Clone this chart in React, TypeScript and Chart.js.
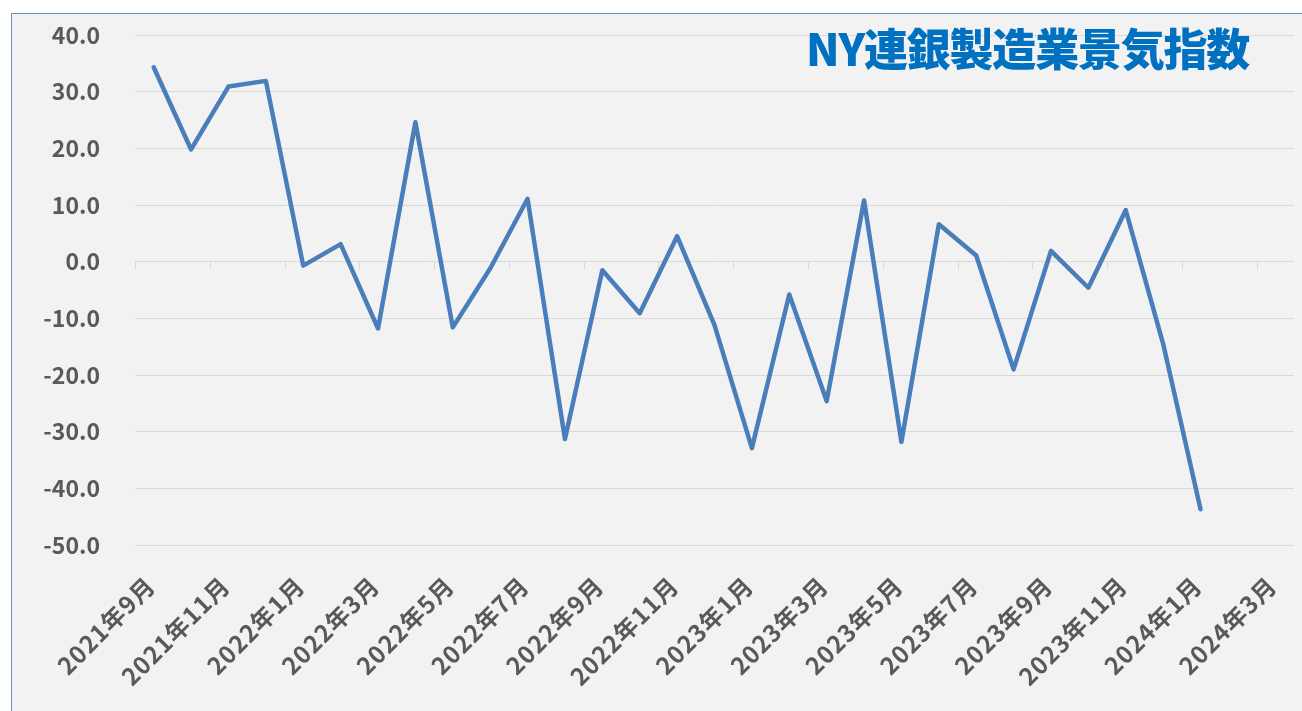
import React, { useEffect, useRef } from "react";
import { Chart, registerables } from "chart.js";

Chart.register(...registerables);

const months: string[] = [
  "2021年9月", "2021年10月", "2021年11月", "2021年12月",
  "2022年1月", "2022年2月", "2022年3月", "2022年4月", "2022年5月", "2022年6月",
  "2022年7月", "2022年8月", "2022年9月", "2022年10月", "2022年11月", "2022年12月",
  "2023年1月", "2023年2月", "2023年3月", "2023年4月", "2023年5月", "2023年6月",
  "2023年7月", "2023年8月", "2023年9月", "2023年10月", "2023年11月", "2023年12月",
  "2024年1月", "2024年2月", "2024年3月",
];

const indexValues: number[] = [
  34.3, 19.8, 30.9, 31.9,
  -0.7, 3.1, -11.8, 24.6, -11.6, -1.2,
  11.1, -31.3, -1.5, -9.1, 4.5, -11.2,
  -32.9, -5.8, -24.6, 10.8, -31.8, 6.6,
  1.1, -19.0, 1.9, -4.6, 9.1, -14.5,
  -43.7,
];

const yMin = -50;
const yMax = 40;
const yStep = 10;
const labelEvery = 2;

const titleText = "NY連銀製造業景気指数";

const LABEL_FONT = "'Noto Sans CJK JP', 'Noto Sans', sans-serif";

const axisDecorPlugin = {
  id: "axisDecor",
  beforeDatasetsDraw(chart: any) {
    const { ctx, scales } = chart;
    const x = scales.x;
    const y = scales.y;
    const w = x.getPixelForValue(1) - x.getPixelForValue(0);
    const y0 = y.getPixelForValue(0);
    ctx.save();
    ctx.strokeStyle = "#d9d9d9";
    ctx.lineWidth = 1;
    for (let j = 0; j < months.length; j += labelEvery) {
      const px = Math.round(x.getPixelForValue(j) - w / 2) + 0.5;
      ctx.beginPath();
      ctx.moveTo(px, y0);
      ctx.lineTo(px, y0 + 8);
      ctx.stroke();
    }
    ctx.restore();
  },
  afterDraw(chart: any) {
    const { ctx, scales, chartArea } = chart;
    const x = scales.x;
    ctx.save();
    ctx.fillStyle = "#595959";
    ctx.font = `bold 24px ${LABEL_FONT}`;
    (ctx as any).letterSpacing = "1px";
    ctx.textAlign = "right";
    ctx.textBaseline = "middle";
    for (let i = 0; i < months.length; i += labelEvery) {
      ctx.save();
      ctx.translate(x.getPixelForValue(i) - 3, chartArea.bottom + 36);
      ctx.rotate(-Math.PI / 4);
      ctx.fillText(months[i], 0, 0);
      ctx.restore();
    }
    ctx.restore();
  },
};

export default function App() {
  const canvasRef = useRef<HTMLCanvasElement | null>(null);

  useEffect(() => {
    if (!canvasRef.current) return;
    const chart = new Chart(canvasRef.current, {
      type: "line",
      data: {
        labels: months,
        datasets: [
          {
            label: titleText,
            data: indexValues,
            borderColor: "#4a7ebb",
            backgroundColor: "#4a7ebb",
            borderWidth: 4.5,
            pointRadius: 0,
            tension: 0,
            borderJoinStyle: "round",
            borderCapStyle: "round",
            fill: false,
          },
        ],
      },
      options: {
        responsive: false,
        animation: false,
        devicePixelRatio: 1,
        layout: { padding: { top: 21, right: 7, bottom: 0, left: 0 } },
        plugins: {
          legend: { display: false },
          tooltip: { enabled: false },
          title: { display: false },
        },
        scales: {
          x: {
            type: "category",
            offset: true,
            grid: { display: false },
            border: { display: false },
            ticks: { display: false },
            afterFit: (s: any) => {
              s.height = 166;
              s.paddingLeft = 0;
              s.paddingRight = 0;
            },
          },
          y: {
            min: yMin,
            max: yMax,
            grid: { color: "#d9d9d9", lineWidth: 1, drawTicks: false },
            border: { display: false },
            ticks: {
              stepSize: yStep,
              padding: 35,
              color: "#595959",
              font: { family: LABEL_FONT, size: 23, weight: "bold", lineHeight: 1 },
              callback: (v: any) => Number(v).toFixed(1),
            },
            afterFit: (s: any) => {
              s.width = 123;
              s.paddingTop = 0;
              s.paddingBottom = 0;
            },
          },
        },
      },
      plugins: [axisDecorPlugin],
    });
    return () => chart.destroy();
  }, []);

  return (
    <div
      style={{
        position: "fixed",
        left: 11,
        top: 13,
        width: 1300,
        height: 710,
        border: "1px solid #6d8fc4",
        background: "#f2f2f2",
        boxSizing: "border-box",
        overflow: "hidden",
      }}
    >
      <canvas
        ref={canvasRef}
        width={1289}
        height={697}
        style={{ position: "absolute", left: 0, top: 0, width: 1289, height: 697 }}
      />
      <div
        style={{
          position: "absolute",
          left: 794,
          top: 11,
          fontFamily: LABEL_FONT,
          fontWeight: 900,
          fontSize: 44,
          letterSpacing: "-1.2px",
          lineHeight: 1,
          color: "#0070c0",
          whiteSpace: "nowrap",
        }}
      >
        {titleText}
      </div>
    </div>
  );
}
